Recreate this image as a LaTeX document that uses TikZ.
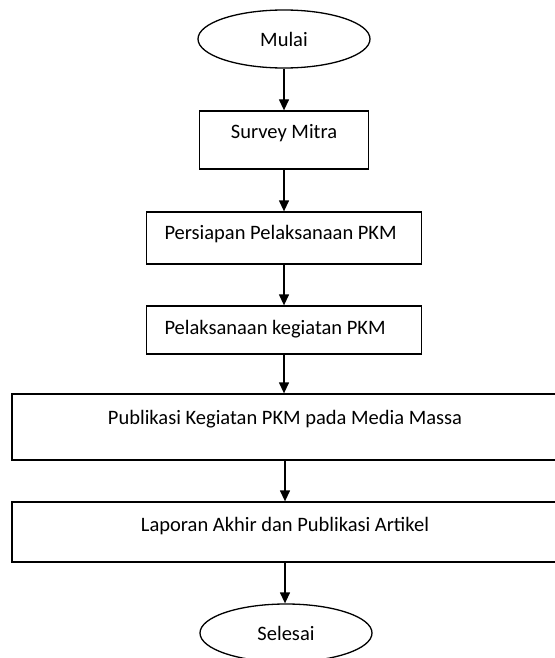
\documentclass[tikz,border=0pt]{standalone}
\usepackage{fontspec}
\setmainfont{Carlito}
\usetikzlibrary{shapes.geometric,arrows.meta,positioning}

\begin{document}
\begin{tikzpicture}[x=1pt, y=-1pt,
terminal/.style={draw, ellipse, line width=1.3pt, inner sep=0pt,
minimum width=172pt, minimum height=58pt, font=\fontsize{20.5}{24}\selectfont},
stepbox/.style={draw, rectangle, line width=1.3pt, inner sep=0pt,
text height=14pt, font=\fontsize{20.5}{24}\selectfont},
arrow/.style={-{Triangle[length=11pt,width=10pt]}, line width=1.3pt}
]

\useasboundingbox (0,0) rectangle (554,658);

\node[terminal] (mulai) at (284,39) {Mulai};
\node[stepbox, minimum width=169pt, minimum height=58pt, text depth=16pt] (survey) at (284,140) {Survey Mitra};
\node[stepbox, text width=239pt, inner xsep=18pt, align=flush left, minimum height=52pt, text depth=12pt] (persiapan) at (284,238) {Persiapan Pelaksanaan PKM};
\node[stepbox, text width=239pt, inner xsep=18pt, align=flush left, minimum height=48pt, text depth=6pt] (pelaksanaan) at (284,330) {Pelaksanaan kegiatan PKM};
\node[stepbox, minimum width=546pt, minimum height=66pt, text depth=20pt] (publikasi) at (285,427) {Publikasi Kegiatan PKM pada Media Massa};
\node[stepbox, minimum width=546pt, minimum height=60pt, text depth=16pt] (laporan) at (285,532) {Laporan Akhir dan Publikasi Artikel};
\node[terminal] (selesai) at (286,633) {Selesai};

\draw[arrow] (mulai.south) -- (survey.north);
\draw[arrow] (survey.south) -- (persiapan.north);
\draw[arrow] (persiapan.south) -- (pelaksanaan.north);
\draw[arrow] (pelaksanaan.south) -- (pelaksanaan.south |- publikasi.north);
\draw[arrow] (publikasi.south) -- (laporan.north);
\draw[arrow] (laporan.south) -- (laporan.south |- selesai.north);

\end{tikzpicture}
\end{document}
